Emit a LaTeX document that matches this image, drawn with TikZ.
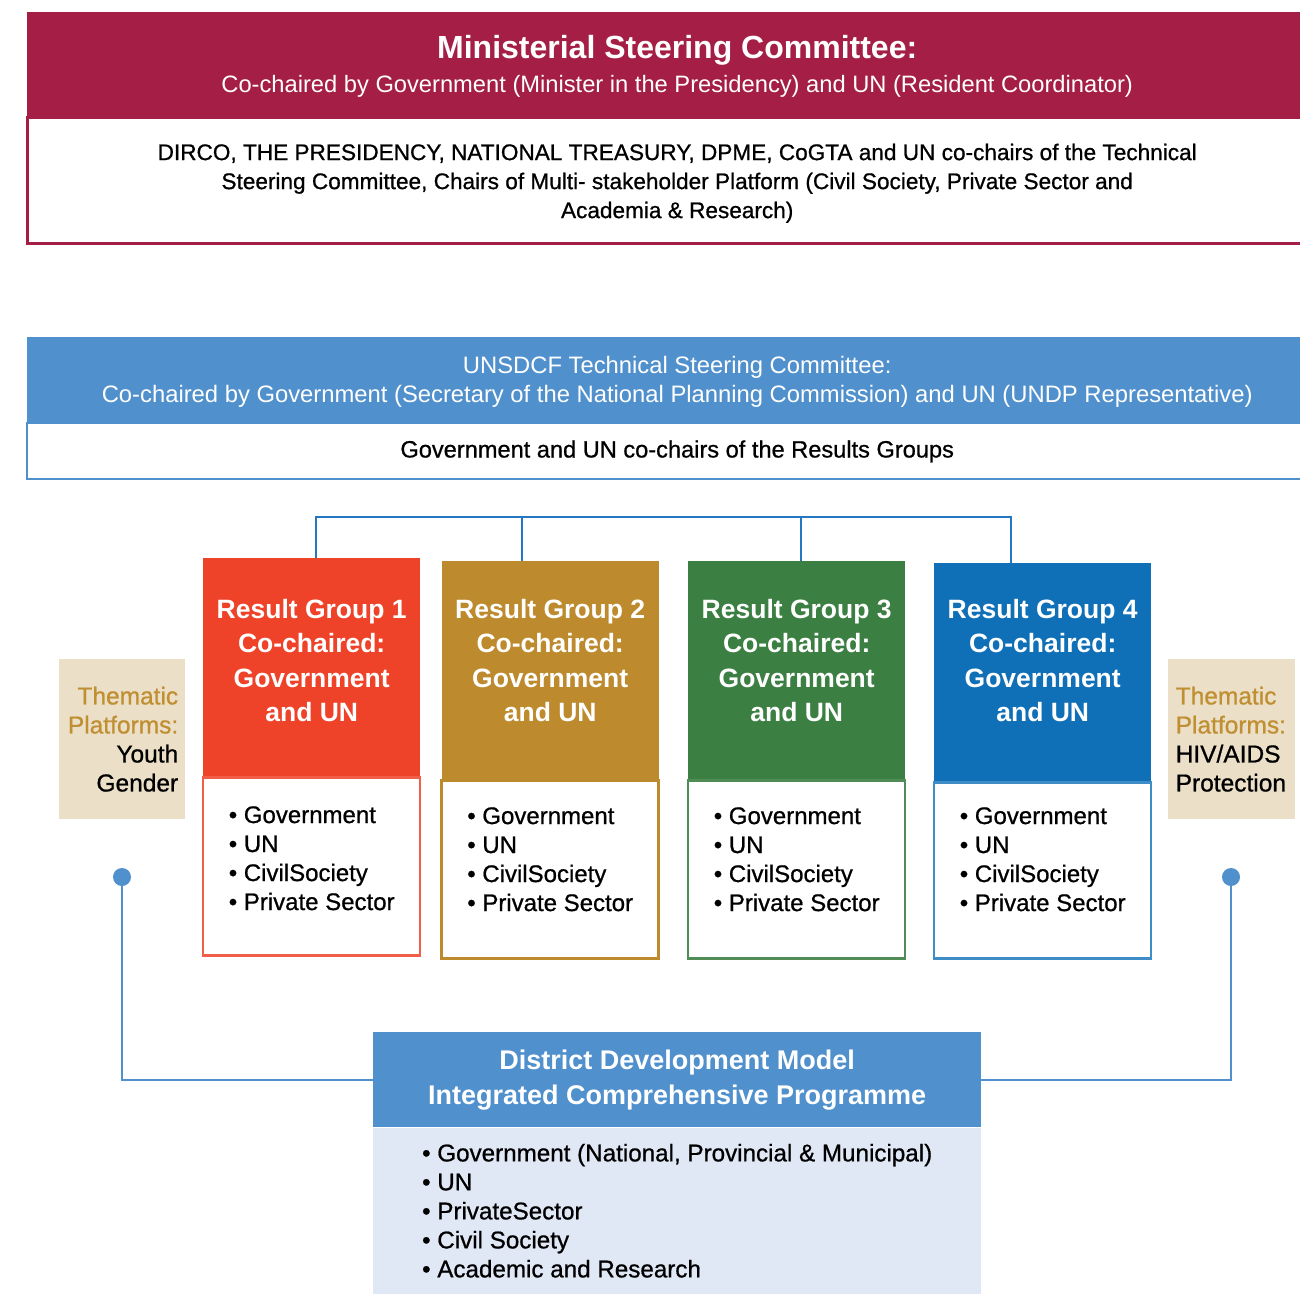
\documentclass[tikz,border=0pt]{standalone}
\usepackage{fontspec}
\setmainfont{Liberation Sans}
\newfontfamily\medfont{Liberation Sans}[FakeBold=0.8]
\usepackage{xcolor}
\usetikzlibrary{positioning}
\definecolor{mscred}{RGB}{164,30,69}
\definecolor{tscblue}{RGB}{80,144,204}
\definecolor{busblue}{RGB}{36,120,194}
\definecolor{rgred}{RGB}{238,67,41}
\definecolor{rggold}{RGB}{189,139,46}
\definecolor{rggreen}{RGB}{60,127,67}
\definecolor{rgblue}{RGB}{15,112,184}
\definecolor{themfill}{RGB}{235,223,199}
\definecolor{themgold}{RGB}{191,143,50}
\definecolor{ddmlight}{RGB}{224,232,245}
\newcommand{\fs}[2]{\fontsize{#1}{#2}\selectfont}

\begin{document}
\begin{tikzpicture}[
    x=1pt, y=-1pt,
    box/.style={rectangle, inner sep=0pt, align=center},
    head/.style={box, text=white},
    rghead/.style={head, minimum width=217, minimum height=218, text depth=14pt,
      font=\fs{26.5}{34.5}\bfseries},
    rgbody/.style={box, fill=white, line width=2.5pt, minimum width=217, minimum height=178,
      align=left, text depth=17pt, font=\medfont\fs{24}{29}},
    thema/.style={box, fill=themfill, minimum width=126, minimum height=160, text width=112,
      font=\medfont\fs{24.5}{29}},
    dot/.style={circle, fill=tscblue, minimum size=18, inner sep=0pt},
    link/.style={draw=tscblue, line width=2pt},
    bus/.style={draw=busblue, line width=2.2pt}
  ]
    \clip (0,0) rectangle (1300,1293);
    \fill[white] (0,0) rectangle (1300,1293);

    \node[head, fill=mscred, minimum width=1300, minimum height=104, anchor=north west,
      text depth=-7pt, font=\fs{23.7}{34}] (msc) at (27,12)
      {{\fs{32}{34}\bfseries Ministerial Steering Committee:}\\
       Co-chaired by Government (Minister in the Presidency) and UN (Resident Coordinator)};
    \node[box, draw=mscred, line width=3pt, fill=white, minimum width=1300, minimum height=126,
      below=0pt of msc, text depth=-7pt, font=\medfont\fs{22.6}{29}] (mscbody)
      {DIRCO, THE PRESIDENCY, NATIONAL TREASURY, DPME, CoGTA and UN co-chairs of the Technical\\
       Steering Committee, Chairs of Multi- stakeholder Platform (Civil Society, Private Sector and\\
       Academia \& Research)};

    \node[head, fill=tscblue, minimum width=1300, minimum height=85, anchor=north west,
      text depth=-1pt, font=\fs{23.8}{29}] (tsc) at (27,337)
      {UNSDCF Technical Steering Committee:\\
       Co-chaired by Government (Secretary of the National Planning Commission) and UN (UNDP Representative)};
    \node[box, draw=tscblue, line width=2pt, fill=white, minimum width=1300, minimum height=56,
      below=0pt of tsc, font=\medfont\fs{23.6}{29}] (tscbody)
      {Government and UN co-chairs of the Results Groups};

    \node[rghead, fill=rgred, anchor=north west] (rg1) at (203,558)
      {Result Group 1\\Co-chaired:\\Government\\and UN};
    \node[rgbody, draw=rgred!85!white, below=0pt of rg1] (rg1list)
      {\textbullet\ Government\\\textbullet\ UN\\\textbullet\ CivilSociety\\\textbullet\ Private Sector};
    \node[rghead, fill=rggold, text depth=20pt, anchor=north west] (rg2) at (441.5,561)
      {Result Group 2\\Co-chaired:\\Government\\and UN};
    \node[rgbody, draw=rggold, text depth=21pt, below=0pt of rg2] (rg2list)
      {\textbullet\ Government\\\textbullet\ UN\\\textbullet\ CivilSociety\\\textbullet\ Private Sector};
    \node[rghead, fill=rggreen, text depth=20pt, anchor=north west] (rg3) at (688,561)
      {Result Group 3\\Co-chaired:\\Government\\and UN};
    \node[rgbody, draw=rggreen!90!white, text depth=21pt, below=0pt of rg3] (rg3list)
      {\textbullet\ Government\\\textbullet\ UN\\\textbullet\ CivilSociety\\\textbullet\ Private Sector};
    \node[rghead, fill=rgblue, text depth=24pt, anchor=north west] (rg4) at (934,563)
      {Result Group 4\\Co-chaired:\\Government\\and UN};
    \node[rgbody, draw=rgblue!80!white, minimum height=176, text depth=23pt, below=0pt of rg4] (rg4list)
      {\textbullet\ Government\\\textbullet\ UN\\\textbullet\ CivilSociety\\\textbullet\ Private Sector};

    \node[thema, align=right, anchor=north west] (themL) at (59,659)
      {\textcolor{themgold}{Thematic}\\\textcolor{themgold}{Platforms:}\\Youth\\Gender};
    \node[thema, align=left, minimum width=127, anchor=north west] (themR) at (1168,659)
      {\textcolor{themgold}{Thematic}\\\textcolor{themgold}{Platforms:}\\HIV/AIDS\\Protection};

    \node[head, fill=tscblue, minimum width=608, minimum height=95, anchor=north west,
      font=\fs{27}{35}\bfseries] (ddm) at (373,1032)
      {District Development Model\\Integrated Comprehensive Programme};
    \node[box, fill=ddmlight, minimum width=608, minimum height=166, below=0pt of ddm,
      align=left, text depth=-9pt, font=\medfont\fs{24.2}{29}] (ddmlist)
      {\textbullet\ Government (National, Provincial \& Municipal)\\\textbullet\ UN\\
       \textbullet\ PrivateSector\\\textbullet\ Civil Society\\\textbullet\ Academic and Research};

    \node[dot] (dotL) at (122,877) {};
    \node[dot] (dotR) at (1231,877) {};

    \coordinate (bus) at (0,517);
    \draw[bus] ([xshift=4pt]rg1.north) -- ([xshift=4pt]rg1.north |- bus) -| ([xshift=-32pt]rg4.north);
    \draw[bus] ([xshift=-28pt]rg2.north) -- ([xshift=-28pt]rg2.north |- bus);
    \draw[bus] ([xshift=4pt]rg3.north) -- ([xshift=4pt]rg3.north |- bus);

    \draw[link] (dotL) |- (ddm.west);
    \draw[link] (dotR) |- (ddm.east);
  \end{tikzpicture}
\end{document}
